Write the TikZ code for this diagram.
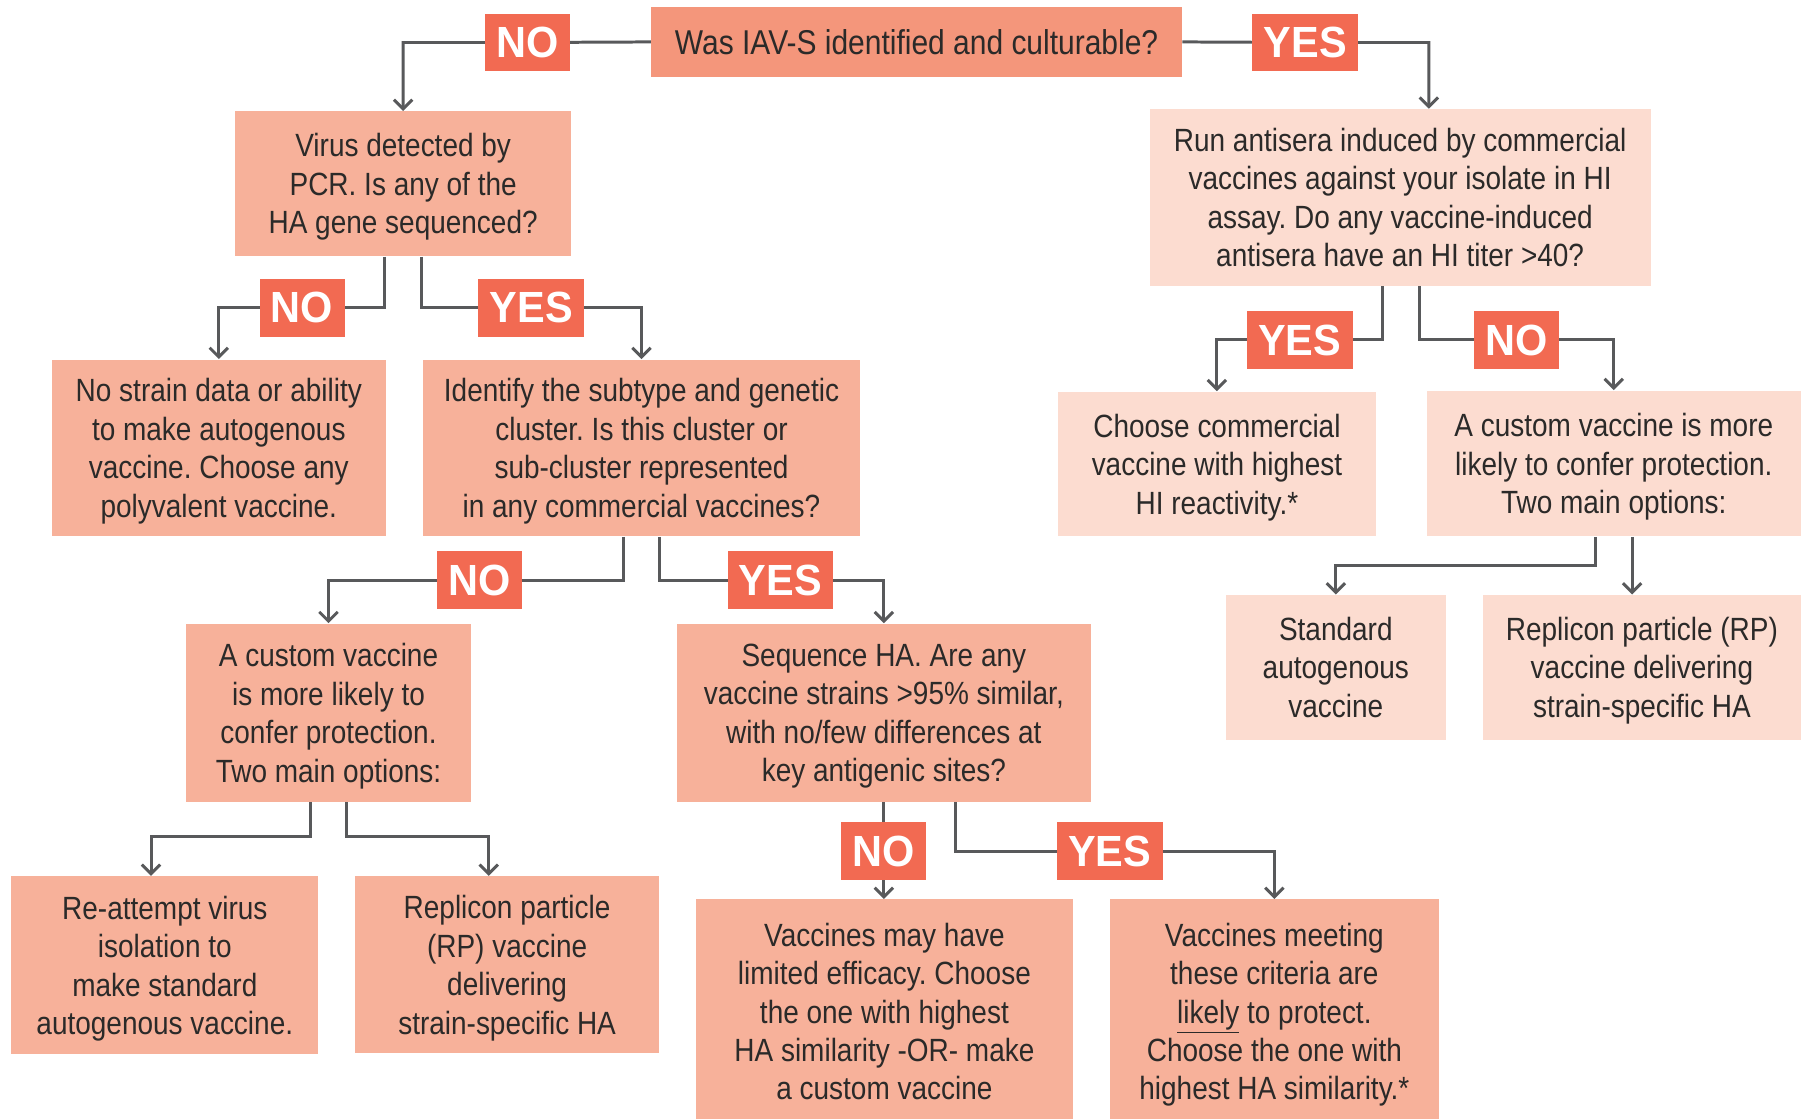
\documentclass[tikz,border=0pt]{standalone}
\usepackage{fontspec}
\setmainfont[FakeStretch=0.87]{Liberation Sans}
\newfontfamily\tagfont[FakeStretch=0.95]{Liberation Sans}
\usetikzlibrary{arrows.meta,calc,backgrounds}
\definecolor{Salmon}{HTML}{F4967B}
\definecolor{Peach}{HTML}{F7B19A}
\definecolor{Blush}{HTML}{FCDCD0}
\definecolor{Coral}{HTML}{F26A52}
\definecolor{Wire}{HTML}{58595B}
\definecolor{Ink}{HTML}{2B2A29}
\frenchspacing

\begin{document}
\begin{tikzpicture}[x=0.5pt, y=-0.5pt,
    box/.style={fill=Peach, text=Ink, align=center, inner sep=0pt, text depth=0pt, font=\fontsize{14}{16.75}\selectfont},
    pale/.style={box, fill=Blush},
    tag/.style={fill=Coral, text=white, inner xsep=5pt, inner ysep=0pt, minimum height=25pt, font=\tagfont\bfseries\fontsize{19}{19}\selectfont},
    arrow/.style={-{Straight Barb[length=4pt,width=8pt]}, line width=1.3pt, draw=Wire}
  ]
    \useasboundingbox (0,0) rectangle (1568,974);

    % first question
    \node[box, fill=Salmon, minimum width=231pt, minimum height=30.5pt, font=\fontsize{15}{18}\selectfont] (root) at (798,36.5) {Was IAV-S identified and culturable?};
    \node[tag] (noTop) at (459,37) {NO};
    \node[tag] (yesTop) at (1136.5,37) {YES};

    % left branch
    \node[box, minimum width=146pt, minimum height=63pt] (pcr) at (351,160) {Virus detected by\\PCR. Is any of the\\HA gene sequenced?};
    \node[tag] (noPcr) at (263,268) {NO};
    \node[tag] (yesPcr) at (462.5,268) {YES};
    \node[box, minimum width=145.5pt, minimum height=77pt] (nodata) at (190.5,390) {No strain data or ability\\to make autogenous\\vaccine. Choose any\\polyvalent vaccine.};
    \node[box, minimum width=190.5pt, minimum height=77pt] (subtype) at (558.5,390) {Identify the subtype and genetic\\cluster. Is this cluster or\\sub-cluster represented\\in any commercial vaccines?};
    \node[tag] (noSub) at (417.5,505) {NO};
    \node[tag] (yesSub) at (679.5,505) {YES};
    \node[box, minimum width=124pt, minimum height=77.5pt] (custom) at (286,620.5) {A custom vaccine\\is more likely to\\confer protection.\\Two main options:};
    \node[box, minimum width=180.5pt, minimum height=77.5pt] (seqha) at (769.5,620.5) {Sequence HA. Are any\\vaccine strains >95\% similar,\\with no/few differences at\\key antigenic sites?};
    \node[box, minimum width=133.5pt, minimum height=77.5pt] (reiso) at (143.5,840.5) {Re-attempt virus\\isolation to\\make standard\\autogenous vaccine.};
    \node[box, minimum width=132.5pt, minimum height=77pt] (rpLeft) at (441.5,840) {Replicon particle\\(RP) vaccine\\delivering\\strain-specific HA};
    \node[tag] (noSeq) at (769.5,741) {NO};
    \node[tag] (yesSeq) at (966,741) {YES};
    \node[box, minimum width=164pt, minimum height=97.5pt] (limited) at (770,880.5) {Vaccines may have\\limited efficacy. Choose\\the one with highest\\HA similarity -OR- make\\a custom vaccine};
    \node[box, minimum width=143.5pt, minimum height=97.5pt] (likely) at (1109.5,880.5) {Vaccines meeting\\these criteria are\\\underline{likely} to protect.\\Choose the one with\\highest HA similarity.*};

    % right branch
    \node[pale, minimum width=218pt, minimum height=77pt] (antisera) at (1219,172) {Run antisera induced by commercial\\vaccines against your isolate in HI\\assay. Do any vaccine-induced\\antisera have an HI titer >40?};
    \node[tag] (yesAnti) at (1131.5,296) {YES};
    \node[tag] (noAnti) at (1320,296) {NO};
    \node[pale, minimum width=138.5pt, minimum height=63pt] (commercial) at (1059.5,404) {Choose commercial\\vaccine with highest\\HI reactivity.*};
    \node[pale, minimum width=163pt, minimum height=63.5pt] (customR) at (1405,403.5) {A custom vaccine is more\\likely to confer protection.\\Two main options:};
    \node[pale, minimum width=96pt, minimum height=63pt] (standard) at (1163,581) {Standard\\autogenous\\vaccine};
    \node[pale, minimum width=138.5pt, minimum height=63pt] (rpRight) at (1429.5,581) {Replicon particle (RP)\\vaccine delivering\\strain-specific HA};
    \coordinate (rpTop) at ($(rpRight.north)+(-8.5,0)$);

    % connectors
    \begin{scope}[on background layer]
      \draw[arrow] (root.west) -- (noTop.center) -| (pcr.north);
      \draw[arrow] (root.east) -- (yesTop.center) -| ($(antisera.north)+(25,0)$);
      \draw[arrow] ($(pcr.south)+(-16,0)$) |- (noPcr.center) -| (nodata.north);
      \draw[arrow] ($(pcr.south)+(16,0)$) |- (yesPcr.center) -| (subtype.north);
      \draw[arrow] ($(subtype.south)+(-16,0)$) |- (noSub.center) -| (custom.north);
      \draw[arrow] ($(subtype.south)+(16,0)$) |- (yesSub.center) -| (seqha.north);
      \draw[arrow] ($(custom.south)+(-16,0)$) -- ++(0,30) -| ($(reiso.north)+(-12,0)$);
      \draw[arrow] ($(custom.south)+(16,0)$) -- ++(0,30) -| ($(rpLeft.north)+(-16,0)$);
      \draw[arrow] (seqha.south) -- (seqha.south |- limited.north);
      \draw[arrow] ($(seqha.south)+(62,0)$) |- (yesSeq.center) -| (likely.north);
      \draw[arrow] ($(antisera.south)+(-15,0)$) |- (yesAnti.center) -| (commercial.north);
      \draw[arrow] ($(antisera.south)+(17,0)$) |- (noAnti.center) -| (customR.north);
      \draw[arrow] ($(customR.south)+(-16,0)$) -- ++(0,25) -| (standard.north);
      \draw[arrow] ($(customR.south)+(16,0)$) -- (rpTop);
    \end{scope}
\end{tikzpicture}
\end{document}
